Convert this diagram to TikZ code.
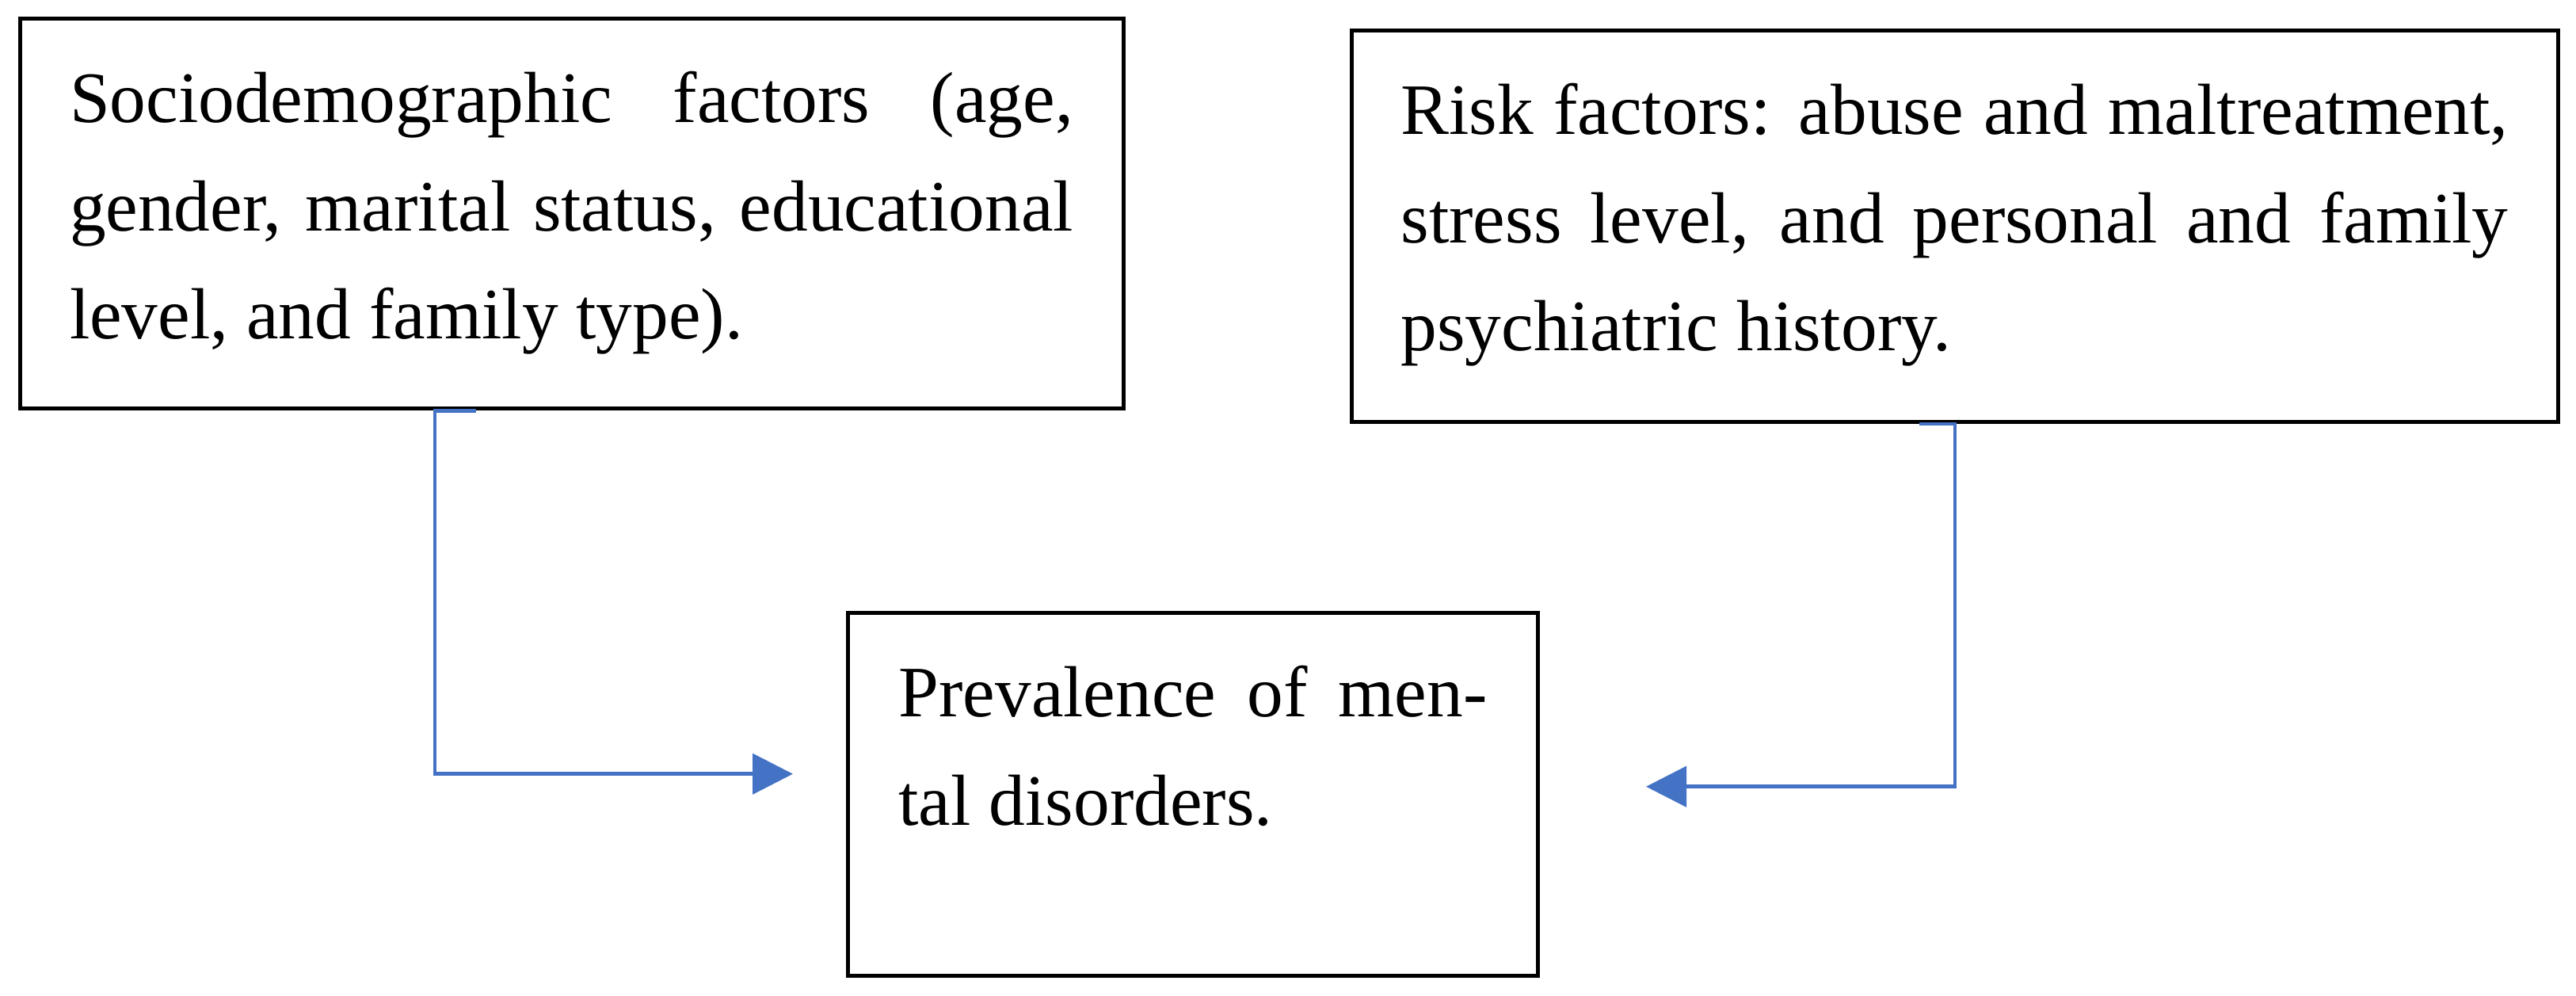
\documentclass[tikz,border=0pt]{standalone}
\usepackage{fontspec}
\setmainfont{Liberation Serif}
\usetikzlibrary{arrows.meta,positioning,calc}
\definecolor{linkblue}{HTML}{4472C4}
\newcommand{\boxtext}[3]{\parbox[t][#1][t]{#2}{\rule{0pt}{1.31cm}#3}}

\begin{document}
\begin{tikzpicture}[
   panel/.style={draw=black,line width=0.05cm,inner ysep=0pt,inner xsep=0.63cm,
                 anchor=north west,font=\fontsize{26}{38.8}\selectfont},
   link/.style={draw=linkblue,line width=0.045cm,
                -{Triangle[length=0.51cm,width=0.51cm]}}]
  \useasboundingbox (0,0) rectangle (32.52,-12.57);
  \node[panel] (socio) at (0.225,-0.215)
    {\boxtext{4.92cm}{12.67cm}{Sociodemographic factors (age,\linebreak gender, marital status, educational\linebreak level, and family type).}};
  \node[panel,inner xsep=0.625cm] (risk) at (17.035,-0.365)
    {\boxtext{4.935cm}{13.98cm}{Risk factors: abuse and maltreatment,\linebreak stress level, and personal and family\linebreak psychiatric history.}};
  \node[panel,inner xsep=0.64cm] (prev) at (10.68,-7.715)
    {\boxtext{4.575cm}{7.43cm}{Prevalence of men-\linebreak tal disorders.}};
  % free ends of the two connectors
  \coordinate (socio tip) at ($(prev.west)+(-0.67,0.26)$);
  \coordinate (risk tip) at ($(prev.east)+(1.34,0.10)$);
  \draw[link] ($(socio.south west)+(5.785,0)$) -- ++(-0.52,0) |- (socio tip);
  \draw[link] ($(risk.south west)+(7.195,0)$) -- ++(0.45,0) |- (risk tip);
\end{tikzpicture}
\end{document}
